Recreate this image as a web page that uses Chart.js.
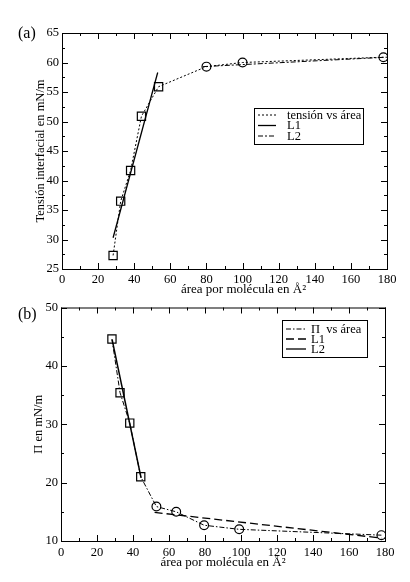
<!DOCTYPE html>
<html>
<head>
<meta charset="utf-8">
<script src="https://cdn.jsdelivr.net/npm/chart.js@4"></script>
<style>
    html, body { margin: 0; padding: 0; background: #fff; }
    #wrap { position: relative; width: 410px; height: 582px; }
    canvas { position: absolute; left: 0; }
    #chartA { top: 0; }
    #chartB { top: 297px; }
</style>
</head>
<body>
<div id="wrap">
    <canvas id="chartA" width="410" height="297"></canvas>
    <canvas id="chartB" width="410" height="285"></canvas>
</div>
<script>
// --- datos panel (a) ---
const areaA = [28.3, 32.5, 38, 44, 53.5, 80, 100, 178];
const tensionA = [27.3, 36.5, 41.7, 50.9, 55.9, 59.3, 60.0, 60.9];
const markerA = ['rect', 'rect', 'rect', 'rect', 'rect', 'circle', 'circle', 'circle'];
const l1AreaA = [28.3, 53];
const l1TensionA = [30.3, 58.3];
const l2AreaA = [78, 180];
const l2TensionA = [59.3, 60.9];
const yTicksA = { min: 25, max: 65, major: 5, minor: 2.5 };

// --- datos panel (b) ---
const areaB = [28.3, 32.8, 38.2, 44.3, 53, 64, 79.5, 99, 178];
const piB = [44.6, 35.4, 30.2, 21.0, 15.9, 15.0, 12.7, 12.0, 11.0];
const markerB = ['rect', 'rect', 'rect', 'rect', 'circle', 'circle', 'circle', 'circle', 'circle'];
const l1AreaB = [52, 178];
const l1PiB = [14.9, 10.5];
const l2AreaB = [28.4, 44.5];
const l2PiB = [44.5, 20.8];
const yTicksB = { min: 10, max: 50, major: 10, minor: 5 };

const xTicks = { min: 0, max: 180, major: 20, minor: 10 };
const xTitle = 'área por molécula en Å²';

const SERIF = '"Liberation Serif", "DejaVu Serif", serif';
const pts = (xs, ys) => xs.map((x, i) => ({ x, y: ys[i] }));

// ticks hacia dentro en los cuatro lados + marco
const innerTicks = {
    id: 'innerTicks',
    afterDatasetsDraw(chart, args, opts) {
        const { ctx, chartArea: a, scales: { x, y } } = chart;
        ctx.save();
        ctx.strokeStyle = '#000';
        ctx.lineWidth = 1;
        ctx.setLineDash([]);
        ctx.strokeRect(a.left + 0.5, a.top + 0.5, a.right - a.left, a.bottom - a.top);
        ctx.beginPath();
        for (let v = opts.x.min; v <= opts.x.max; v += opts.x.minor) {
            const px = Math.round(x.getPixelForValue(v)) + 0.5;
            const len = ((v - opts.x.min) % opts.x.major === 0) ? 6 : 3;
            ctx.moveTo(px, a.bottom); ctx.lineTo(px, a.bottom - len);
            ctx.moveTo(px, a.top); ctx.lineTo(px, a.top + len);
        }
        for (let v = opts.y.min; v <= opts.y.max; v += opts.y.minor) {
            const py = Math.round(y.getPixelForValue(v)) + 0.5;
            const len = ((v - opts.y.min) % opts.y.major === 0) ? 6 : 3;
            ctx.moveTo(a.left, py); ctx.lineTo(a.left + len, py);
            ctx.moveTo(a.right, py); ctx.lineTo(a.right - len, py);
        }
        ctx.stroke();
        ctx.restore();
    }
};

// leyenda con recuadro dentro del área
const boxLegend = {
    id: 'boxLegend',
    afterDraw(chart, args, opts) {
        const { ctx } = chart;
        ctx.save();
        ctx.fillStyle = '#fff';
        ctx.fillRect(opts.left, opts.top, opts.width, opts.height);
        ctx.strokeStyle = '#000';
        ctx.lineWidth = 1;
        ctx.setLineDash([]);
        ctx.strokeRect(opts.left + 0.5, opts.top + 0.5, opts.width, opts.height);
        ctx.font = '12.5px ' + SERIF;
        ctx.textBaseline = 'middle';
        ctx.fillStyle = '#000';
        chart.data.datasets.forEach((ds, i) => {
            const cy = opts.top + opts.rowTop + i * opts.rowStep;
            ctx.beginPath();
            ctx.setLineDash(ds.borderDash || []);
            ctx.lineWidth = ds.legendWidth || 1;
            ctx.moveTo(opts.left + 4, cy);
            ctx.lineTo(opts.left + 4 + opts.sample, cy);
            ctx.stroke();
            ctx.setLineDash([]);
            ctx.fillText(ds.label, opts.left + opts.textX, cy + 0.5);
        });
        ctx.restore();
    }
};

// etiqueta del panel (a)/(b) y título del eje x
const captions = {
    id: 'captions',
    afterDraw(chart, args, opts) {
        const { ctx, chartArea: a } = chart;
        ctx.save();
        ctx.fillStyle = '#000';
        ctx.textBaseline = 'middle';
        ctx.font = '16px ' + SERIF;
        ctx.fillText(opts.tag, opts.tagX, opts.tagY);
        ctx.font = '13px ' + SERIF;
        ctx.textAlign = 'center';
        ctx.fillText(xTitle, (a.left + a.right) / 2 + opts.xTitleShift, a.bottom + opts.xTitleDy);
        ctx.restore();
    }
};

function buildOptions(cfg) {
    return {
        responsive: false,
        animation: false,
        layout: { padding: cfg.padding },
        plugins: {
            legend: { display: false },
            tooltip: { enabled: false },
            innerTicks: { x: xTicks, y: cfg.yTicks },
            boxLegend: cfg.legend,
            captions: cfg.captions
        },
        scales: {
            x: {
                type: 'linear',
                min: xTicks.min, max: xTicks.max,
                grid: { display: false, drawTicks: false },
                border: { display: false },
                ticks: { stepSize: xTicks.major, padding: cfg.xTickPad, color: '#000', font: { family: SERIF, size: 12.5 } },
                afterFit: s => { s.height = cfg.xHeight; }
            },
            y: {
                type: 'linear',
                min: cfg.yTicks.min, max: cfg.yTicks.max,
                grid: { display: false, drawTicks: false },
                border: { display: false },
                ticks: { stepSize: cfg.yTicks.major, padding: 3, color: '#000', font: { family: SERIF, size: 12.5 } },
                title: {
                    display: true, text: cfg.yTitle, color: '#000',
                    font: { family: SERIF, size: 12.5 }, padding: { top: cfg.yTitlePad, bottom: 0 }
                },
                afterFit: s => { s.width = cfg.yWidth; }
            }
        }
    };
}

const lineBase = { showLine: true, fill: false, borderColor: '#000', backgroundColor: 'transparent', pointRadius: 0 };

const Charts = {
    init() {
        this.renderA();
        this.renderB();
    },

    renderA() {
        new Chart(document.getElementById('chartA'), {
            type: 'scatter',
            data: {
                datasets: [
                    {
                        ...lineBase, label: 'tensión vs área', data: pts(areaA, tensionA),
                        borderWidth: 1, borderDash: [2, 2],
                        pointStyle: markerA, pointRadius: markerA.map(m => m === 'rect' ? 5.8 : 4.4),
                        pointBorderColor: '#000', pointBorderWidth: 1.2, pointBackgroundColor: 'transparent'
                    },
                    { ...lineBase, label: 'L1', data: pts(l1AreaA, l1TensionA), borderWidth: 1.3, legendWidth: 1.3 },
                    { ...lineBase, label: 'L2', data: pts(l2AreaA, l2TensionA), borderWidth: 1, borderDash: [5, 2, 2, 2] }
                ]
            },
            options: buildOptions({
                padding: { top: 33, right: 23, bottom: 0, left: 0 },
                yTicks: yTicksA,
                yTitle: 'Tensión interfacial en mN/m',
                yTitlePad: 33,
                yWidth: 62,
                xHeight: 28,
                xTickPad: 3,
                legend: { left: 254, top: 108, width: 109, height: 36, rowTop: 7, rowStep: 10.5, sample: 18, textX: 33 },
                captions: { tag: '(a)', tagX: 18, tagY: 34, xTitleShift: 19, xTitleDy: 21 }
            }),
            plugins: [innerTicks, boxLegend, captions]
        });
    },

    renderB() {
        new Chart(document.getElementById('chartB'), {
            type: 'scatter',
            data: {
                datasets: [
                    {
                        ...lineBase, label: 'Π  vs área', data: pts(areaB, piB),
                        borderWidth: 1, borderDash: [5, 2, 1.5, 2],
                        pointStyle: markerB, pointRadius: markerB.map(m => m === 'rect' ? 5.8 : 4.4),
                        pointBorderColor: '#000', pointBorderWidth: 1.2, pointBackgroundColor: 'transparent'
                    },
                    { ...lineBase, label: 'L1', data: pts(l1AreaB, l1PiB), borderWidth: 1.3, borderDash: [8, 4], legendWidth: 1.6 },
                    { ...lineBase, label: 'L2', data: pts(l2AreaB, l2PiB), borderWidth: 1.5, legendWidth: 1.3 }
                ]
            },
            options: buildOptions({
                padding: { top: 8, right: 25, bottom: 14, left: 0 },
                yTicks: yTicksB,
                yTitle: 'Π en mN/m',
                yTitlePad: 31,
                yWidth: 61,
                xHeight: 27,
                xTickPad: 4,
                legend: { left: 282, top: 23, width: 85, height: 37, rowTop: 9, rowStep: 10, sample: 20, textX: 29 },
                captions: { tag: '(b)', tagX: 18, tagY: 18, xTitleShift: 0, xTitleDy: 22 }
            }),
            plugins: [innerTicks, boxLegend, captions]
        });
    }
};

window.addEventListener('DOMContentLoaded', () => Charts.init());
</script>
</body>
</html>
